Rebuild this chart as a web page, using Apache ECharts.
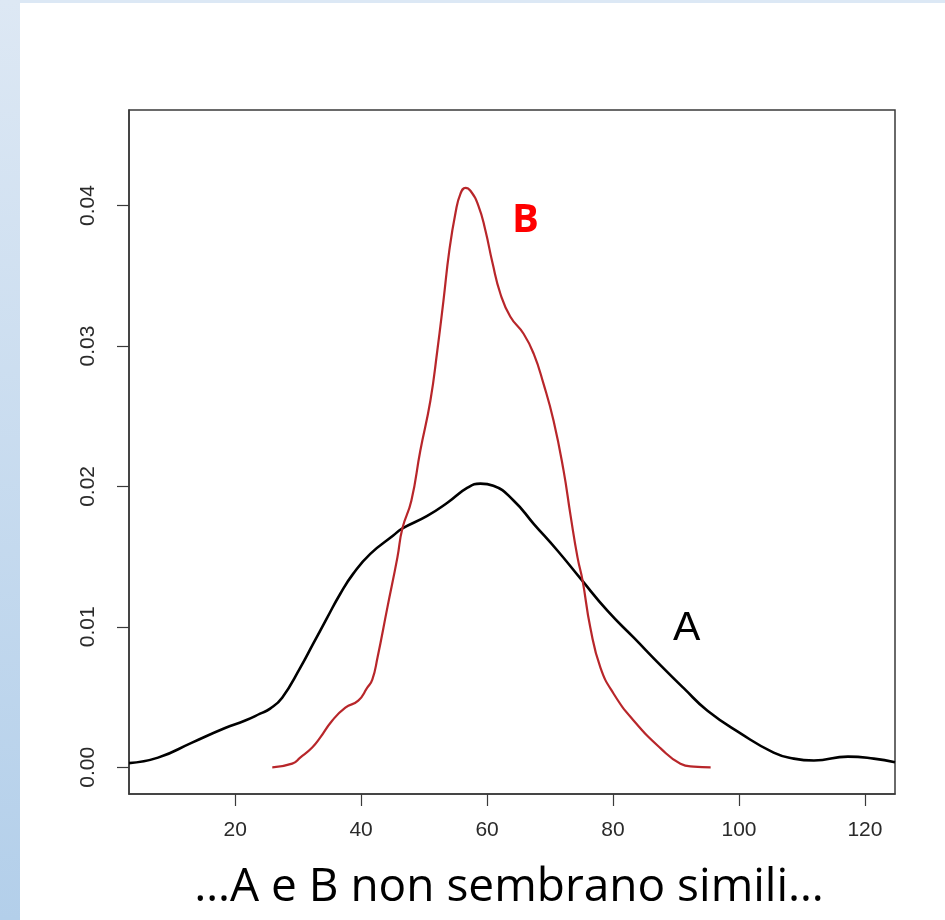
<!DOCTYPE html>
<html>
<head>
<meta charset="utf-8">
<script src="https://cdn.jsdelivr.net/npm/echarts@6/dist/echarts.min.js"></script>
<style>
  html, body { margin: 0; padding: 0; background: #ffffff; }
  #chart { width: 945px; height: 920px; }
</style>
</head>
<body>
<div id="chart"></div>
<script>
// Kernel density estimate of sample A (x, density)
const densityAX = [3.15, 7.76, 13.16, 18.41, 21.6, 23.97, 25.56, 27.47, 30.33, 32.4, 34.6, 36.7, 38.76, 41.46, 45.1, 46.5, 50.5, 53.7, 56.9, 58.95, 61.0, 64.2, 67.4, 71.2, 74.85, 79.1, 83.3, 87.6, 91.3, 95.0, 100.3, 105.5, 108.7, 111.9, 117.3, 121.4, 124.77];
const densityAY = [0.00030, 0.00069, 0.00176, 0.00280, 0.00333, 0.00382, 0.00418, 0.00496, 0.00708, 0.00880, 0.01064, 0.01236, 0.01379, 0.01520, 0.01650, 0.01699, 0.01790, 0.01884, 0.01991, 0.02020, 0.02005, 0.01900, 0.01734, 0.01542, 0.01343, 0.01115, 0.00923, 0.00724, 0.00560, 0.00403, 0.00240, 0.00105, 0.00062, 0.00048, 0.00076, 0.00062, 0.00036];

// Kernel density estimate of sample B (x, density)
const densityBX = [25.9, 29.06, 30.33, 32.24, 33.5, 35.4, 37.5, 39.55, 40.98, 41.78, 42.6, 44.17, 45.76, 46.55, 47.98, 49.4, 51.0, 52.1, 53.07, 54.0, 55.0, 55.77, 56.57, 57.36, 58.63, 59.75, 60.86, 62.13, 63.7, 65.8, 67.4, 68.97, 70.56, 72.15, 73.26, 74.37, 75.17, 76.4, 78.0, 80.1, 83.3, 87.6, 90.7, 92.8, 95.5];
const densityBY = [0.00000, 0.00026, 0.00069, 0.00141, 0.00211, 0.00332, 0.00425, 0.00475, 0.00567, 0.00624, 0.00780, 0.01137, 0.01493, 0.01700, 0.01898, 0.02254, 0.02610, 0.02966, 0.03320, 0.03677, 0.03950, 0.04083, 0.04126, 0.04105, 0.03998, 0.03820, 0.03592, 0.03370, 0.03208, 0.03087, 0.02945, 0.02730, 0.02468, 0.02112, 0.01792, 0.01493, 0.01329, 0.00994, 0.00710, 0.00524, 0.00332, 0.00133, 0.00026, 0.00005, 0.00000];

// Axis ticks
const xTicks = [20, 40, 60, 80, 100, 120];
const yTicks = [0, 0.01, 0.02, 0.03, 0.04];

// Curve labels placed in data coordinates
const labelA = { text: 'A', x: 91.7, y: 0.0099 };
const labelB = { text: 'B', x: 66.1, y: 0.0389 };

const caption = '…A e B non sembrano simili…';

const zip = (xs, ys) => xs.map((x, i) => [x, ys[i]]);

const chart = echarts.init(document.getElementById('chart'), null, { renderer: 'canvas' });

const tickLabelStyle = {
  fontFamily: 'Liberation Sans, Arial, sans-serif',
  fontSize: 21,
  color: '#2a2a2a'
};

chart.setOption({
  animation: false,
  backgroundColor: '#ffffff',
  grid: {
    left: 129, right: 50, top: 110, bottom: 126,
    show: true,
    borderColor: '#3a3a3a',
    borderWidth: 1.5,
    backgroundColor: 'transparent'
  },
  xAxis: {
    type: 'value',
    min: 3.15,
    max: 124.77,
    splitLine: { show: false },
    axisLine: { show: true, onZero: false, lineStyle: { color: '#3a3a3a', width: 1.5 } },
    axisTick: { show: true, length: 12, customValues: xTicks, lineStyle: { color: '#3a3a3a', width: 1.2 } },
    axisLabel: Object.assign({ margin: 26, customValues: xTicks, formatter: v => String(v) }, tickLabelStyle)
  },
  yAxis: {
    type: 'value',
    min: -0.0019,
    max: 0.0468,
    splitLine: { show: false },
    axisLine: { show: true, onZero: false, lineStyle: { color: '#3a3a3a', width: 1.5 } },
    axisTick: { show: true, length: 12, customValues: yTicks, lineStyle: { color: '#3a3a3a', width: 1.2 } },
    axisLabel: Object.assign({ margin: 30, rotate: 90, customValues: yTicks, formatter: v => v.toFixed(2) }, tickLabelStyle)
  },
  series: [
    {
      name: 'A',
      type: 'line',
      data: zip(densityAX, densityAY),
      smooth: 0.5,
      showSymbol: false,
      lineStyle: { color: '#000000', width: 2.6 },
      markPoint: {
        symbol: 'circle',
        symbolSize: 1,
        itemStyle: { color: 'rgba(0,0,0,0)' },
        label: {
          show: true, position: 'inside', formatter: labelA.text,
          fontFamily: 'Liberation Sans, Arial, sans-serif', fontSize: 41, color: '#000000'
        },
        data: [{ coord: [labelA.x, labelA.y] }]
      }
    },
    {
      name: 'B',
      type: 'line',
      data: zip(densityBX, densityBY),
      smooth: 0.5,
      showSymbol: false,
      lineStyle: { color: '#b8262a', width: 2.2 },
      markPoint: {
        symbol: 'circle',
        symbolSize: 1,
        itemStyle: { color: 'rgba(0,0,0,0)' },
        label: {
          show: true, position: 'inside', formatter: labelB.text,
          fontFamily: 'Open Sans, sans-serif', fontWeight: 'bold', fontSize: 40, color: '#ff0000'
        },
        data: [{ coord: [labelB.x, labelB.y] }]
      }
    }
  ],
  graphic: [
    {
      type: 'rect', left: 0, top: 0, z: -10,
      shape: { width: 945, height: 3 },
      style: { fill: '#dce8f5' }
    },
    {
      type: 'rect', left: 0, top: 0, z: -10,
      shape: { width: 20, height: 920 },
      style: {
        fill: new echarts.graphic.LinearGradient(0, 0, 0, 1, [
          { offset: 0, color: '#dde8f4' },
          { offset: 1, color: '#b3cfea' }
        ])
      }
    },
    {
      type: 'text', x: 509, y: 888, z: 10,
      style: {
        text: caption,
        fontFamily: 'Open Sans, sans-serif',
        fontSize: 46,
        fill: '#000000',
        textAlign: 'center',
        textVerticalAlign: 'middle'
      }
    }
  ]
});
</script>
</body>
</html>
